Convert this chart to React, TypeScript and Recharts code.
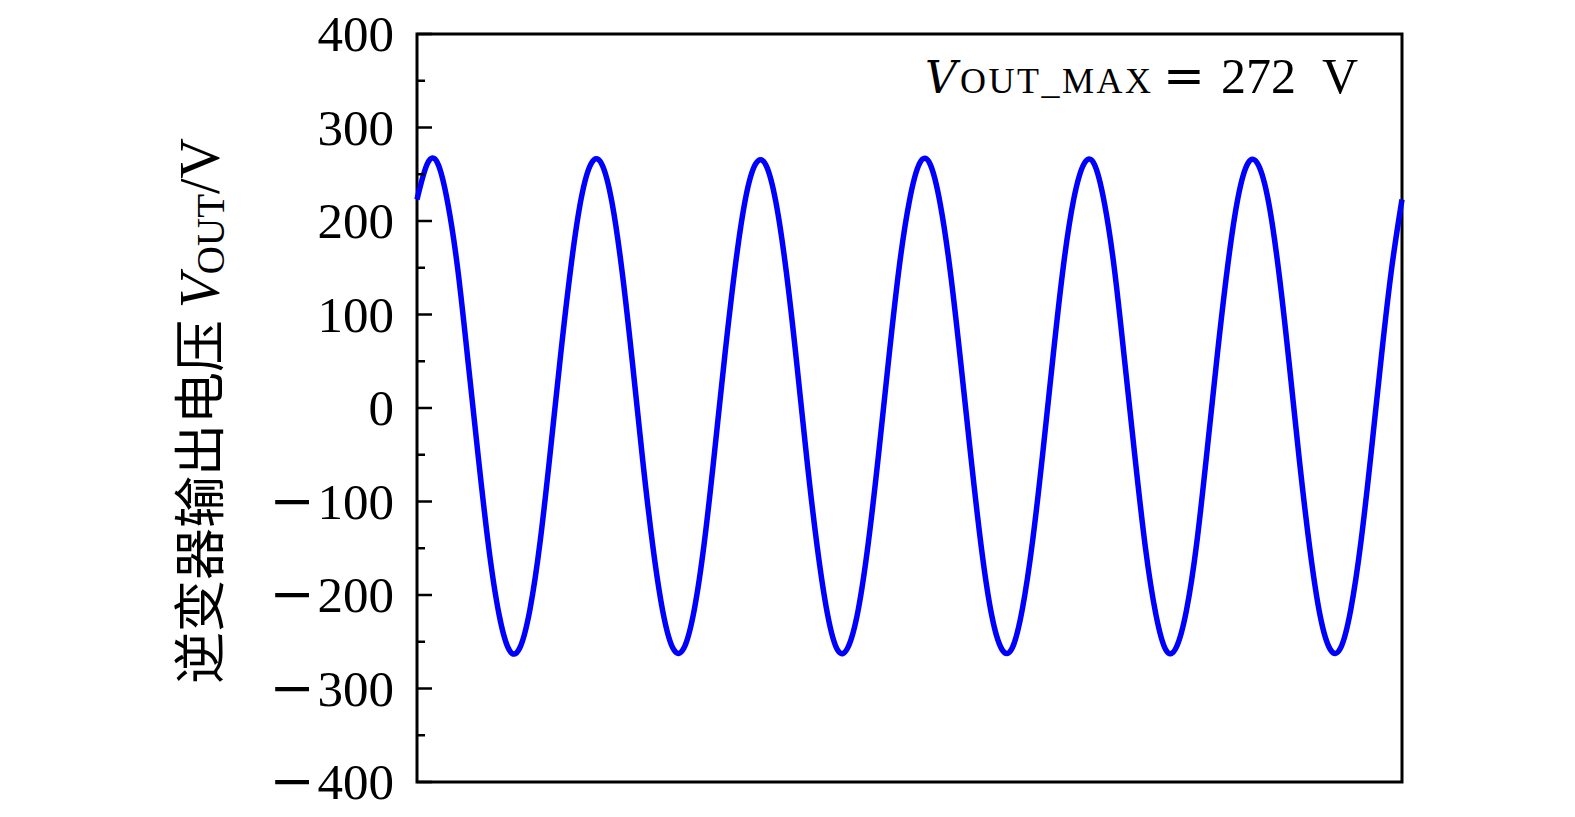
import { LineChart, Line, XAxis, YAxis, ReferenceArea, Customized } from 'recharts'

const sampleStepMs = 1.25
const voltage = [
  223, 261, 262, 219, 146, 47, -55, -150, -221, -259, -257, -216, -143, -46, 57, 151,
  224, 262, 261, 220, 145, 48, -56, -149, -220, -258, -257, -217, -144, -47, 56, 150,
  223, 261, 260, 219, 145, 49, -55, -148, -220, -259, -256, -216, -143, -48, 55, 151,
  222, 262, 261, 218, 144, 48, -54, -149, -221, -258, -257, -215, -142, -47, 56, 152,
  223, 261, 261, 219, 146, 47, -55, -150, -220, -259, -256, -216, -144, -46, 57, 151,
  224, 262, 260, 220, 145, 48, -56, -149, -221, -258, -257, -216, -143, -47, 56, 150,
  223
]
const yTicks = [-400, -350, -300, -250, -200, -150, -100, -50, 0, 50, 100, 150, 200, 250, 300, 350, 400]
const yLabels = [-400, -300, -200, -100, 0, 100, 200, 300, 400]
const timeDomain = [0, 120]

const data = voltage.map((v, i) => ({ t: i * sampleStepMs, v }))

const SERIF = '"Liberation Serif", "DejaVu Serif", serif'
const DJV = '"DejaVu Serif", serif'
const CJK = '"Noto Sans CJK SC", sans-serif'
const TICK_MARGIN = 20

function YTick(props: any) {
  const { x, y, payload } = props
  const val = payload.value as number
  const major = yLabels.includes(val)
  const axisX = x + TICK_MARGIN
  return (
    <g>
      <line x1={axisX} x2={axisX + (major ? 15 : 8)} y1={y} y2={y} stroke="#000" strokeWidth={2.5} />
      {major && (
        <text x={x - 3} y={y} dy="0.34em" textAnchor="end" fontSize={51} fontFamily={SERIF} fill="#000">
          {val < 0 && <tspan fontFamily={DJV} fontSize={54}>{'\u2212'}</tspan>}
          <tspan dx={val < 0 ? 3 : 0}>{Math.abs(val)}</tspan>
        </text>
      )}
    </g>
  )
}

function Annotations() {
  return (
    <g fill="#000">
      <text y={85} fontFamily={SERIF} fontSize={50}>
        <tspan x={917} fontFamily={DJV} fontSize={44} fontStyle="italic">V</tspan>
        <tspan x={952} fontSize={36} letterSpacing={2.5}>OUT_MAX</tspan>
        <tspan x={1155} fontFamily={DJV}>=</tspan>
        <tspan x={1213}>272</tspan>
        <tspan x={1314}>V</tspan>
      </text>
      <text
        x={211}
        y={403}
        transform="rotate(-90, 211, 403)"
        textAnchor="middle"
        fontSize={52}
      >
        <tspan fontFamily={CJK}>逆变器输出电压 </tspan>
        <tspan fontFamily={SERIF} fontSize={56} fontStyle="italic">V</tspan>
        <tspan fontFamily={SERIF} fontSize={39} dy={5}>OUT</tspan>
        <tspan fontFamily={SERIF} fontSize={56} dy={-5}>/V</tspan>
      </text>
    </g>
  )
}

export default function App() {
  return (
    <LineChart width={1560} height={800} data={data} margin={{ top: 26, right: 166, bottom: 26, left: 0 }}>
      <XAxis dataKey="t" type="number" domain={timeDomain} hide />
      <YAxis
        type="number"
        domain={[-400, 400]}
        ticks={yTicks}
        interval={0}
        width={409}
        tickSize={0}
        tickMargin={TICK_MARGIN}
        axisLine={false}
        tickLine={false}
        tick={<YTick />}
      />
      <Line
        type="natural"
        dataKey="v"
        stroke="#0000ff"
        strokeWidth={5.5}
        dot={false}
        isAnimationActive={false}
      />
      <ReferenceArea
        x1={timeDomain[0]}
        x2={timeDomain[1]}
        y1={-400}
        y2={400}
        fill="none"
        stroke="#000"
        strokeWidth={3}
        ifOverflow="visible"
      />
      <Customized component={<Annotations />} />
    </LineChart>
  )
}
